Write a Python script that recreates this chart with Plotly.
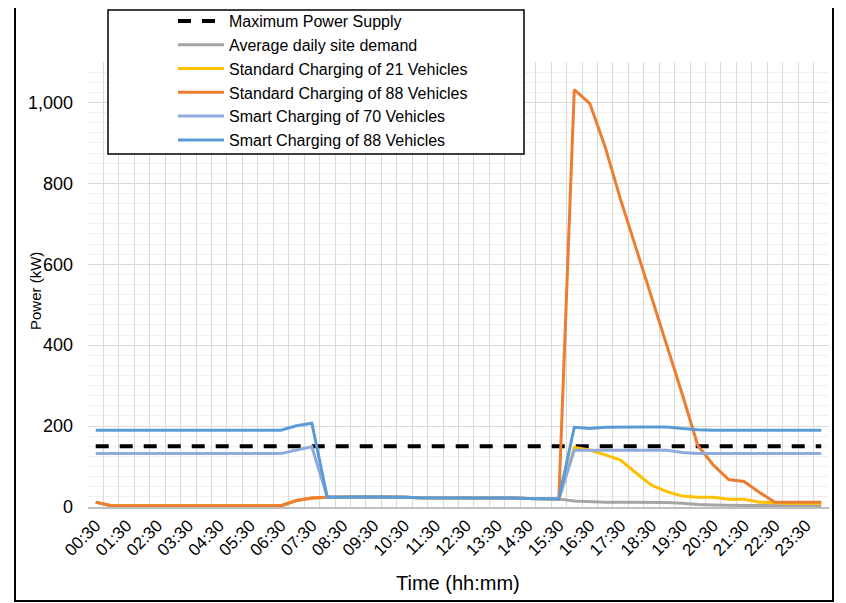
import plotly.graph_objects as go

# ---------------- data ----------------
times = ["00:30", "01:00", "01:30", "02:00", "02:30", "03:00", "03:30", "04:00",
         "04:30", "05:00", "05:30", "06:00", "06:30", "07:00", "07:30", "08:00",
         "08:30", "09:00", "09:30", "10:00", "10:30", "11:00", "11:30", "12:00",
         "12:30", "13:00", "13:30", "14:00", "14:30", "15:00", "15:30", "16:00",
         "16:30", "17:00", "17:30", "18:00", "18:30", "19:00", "19:30", "20:00",
         "20:30", "21:00", "21:30", "22:00", "22:30", "23:00", "23:30", "24:00"]

max_power_supply = [150] * 48

avg_site_demand = [12, 3, 3, 3, 3, 3, 3, 3, 3, 3, 3, 3, 3, 16, 22,
                   24, 25, 25, 25, 25, 24, 23, 23, 23, 23, 23, 23, 22, 21, 20, 20,
                   15, 13, 12, 12, 12, 12, 11, 9, 6, 5, 4, 4, 4, 3, 3, 3, 3]

std_21 = [12, 3, 3, 3, 3, 3, 3, 3, 3, 3, 3, 3, 3, 16, 22,
          24, 25, 25, 25, 25, 24, 23, 23, 23, 23, 23, 23, 22, 21, 20, 20,
          147, 141, 129, 116, 84, 54, 38, 27, 24, 24, 19, 19, 12, 10, 9, 9, 9]

std_88 = [12, 3, 3, 3, 3, 3, 3, 3, 3, 3, 3, 3, 3, 16, 22,
          24, 25, 25, 25, 25, 24, 23, 23, 23, 23, 23, 23, 22, 21, 20, 20,
          1032, 998, 890, 760, 640, 520, 400, 278, 152, 104, 68, 63, 36, 12, 12, 12, 12]

smart_70 = [132, 132, 132, 132, 132, 132, 132, 132, 132, 132, 132, 132, 132, 141, 149,
            24, 25, 25, 25, 25, 24, 23, 23, 23, 23, 23, 23, 22, 21, 20, 20,
            140, 140, 140, 140, 140, 140, 140, 135, 132, 132, 132, 132, 132, 132, 132, 132, 132]

smart_88 = [190, 190, 190, 190, 190, 190, 190, 190, 190, 190, 190, 190, 190, 201, 207,
            24, 25, 25, 25, 25, 24, 23, 23, 23, 23, 23, 23, 22, 21, 20, 20,
            197, 194, 197, 198, 198, 198, 198, 194, 191, 190, 190, 190, 190, 190, 190, 190, 190]

tick_labels = [t if i % 2 == 0 else "" for i, t in enumerate(times)]

# ---------------- figure ----------------
OFF = 8                       # page body margin of the written html
W, H = 846 - OFF, 603 - OFF   # figure size
# plot area in page pixels (as in the reference)
PL, PR, PT, PB = 88, 829, 62, 507
L, R, T, B = PL - OFF, PR - OFF, PT - OFF, PB - OFF


def px(x):
    """page x pixel -> paper coordinate"""
    return (x - OFF - L) / (R - L)


def py(y):
    """page y pixel -> paper coordinate"""
    return (B - (y - OFF)) / (B - T)


FONT = "Liberation Sans, Arial, sans-serif"

series = [
    ("Maximum Power Supply", max_power_supply, "#000000", 4, "13px,11px"),
    ("Average daily site demand", avg_site_demand, "#A5A5A5", 3, "solid"),
    ("Standard Charging of 21 Vehicles", std_21, "#FFC000", 3, "solid"),
    ("Standard Charging of 88 Vehicles", std_88, "#ED7D31", 3, "solid"),
    ("Smart Charging of 70 Vehicles", smart_70, "#8FAADC", 3, "solid"),
    ("Smart Charging of 88 Vehicles", smart_88, "#5B9BD5", 3, "solid"),
]

fig = go.Figure()
for name, vals, col, w, dash in series:
    fig.add_trace(go.Scatter(x=times, y=vals, name=name, mode="lines",
                             line=dict(color=col, width=w, dash=dash)))

fig.update_layout(
    width=W, height=H,
    margin=dict(l=L, r=W - R, t=T, b=H - B, autoexpand=False),
    paper_bgcolor="white", plot_bgcolor="white",
    font=dict(family=FONT, color="#000000"),
    showlegend=True,
    legend=dict(xref="paper", yref="paper",
                x=px(108), y=py(4),
                xanchor="left", yanchor="top",
                bgcolor="rgba(0,0,0,0)", borderwidth=0,
                font=dict(size=16, family=FONT), indentation=65,
                itemwidth=46, tracegroupgap=0),
    xaxis=dict(type="category", range=[-0.5, 47.5], tickmode="array",
               tickvals=times, ticktext=tick_labels, tickson="boundaries",
               tickangle=-45, ticks="", tickfont=dict(size=17), automargin=False,
               showgrid=True, gridcolor="#d9d9d9", gridwidth=1,
               showline=True, linecolor="#bfbfbf", linewidth=2, zeroline=False),
    yaxis=dict(range=[0, 1100], dtick=200, tickformat=",", ticks="",
               tickfont=dict(size=18), ticklabelstandoff=14, automargin=False,
               showgrid=True, gridcolor="#d9d9d9", gridwidth=1, zeroline=False,
               minor=dict(dtick=25, showgrid=True, gridcolor="#f0f0f0", gridwidth=1)),
)

# outer frame
fig.add_shape(type="rect", xref="paper", yref="paper", layer="above",
              x0=px(15), x1=px(833), y0=py(601), y1=py(4),
              line=dict(color="#000000", width=2))
# legend box
fig.add_shape(type="rect", xref="paper", yref="paper", layer="above",
              x0=px(108), x1=px(524), y0=py(154), y1=py(10),
              fillcolor="white", line=dict(color="#000000", width=1.5))

# axis titles
fig.add_annotation(text="Power (kW)", xref="paper", yref="paper",
                   x=px(35), y=py(291), xanchor="center", yanchor="middle",
                   textangle=-90, showarrow=False,
                   font=dict(size=15, family=FONT))
fig.add_annotation(text="Time (hh:mm)", xref="paper", yref="paper",
                   x=px(458), y=py(583), xanchor="center", yanchor="middle",
                   showarrow=False, font=dict(size=20, family=FONT))

fig.write_html("out.html")
